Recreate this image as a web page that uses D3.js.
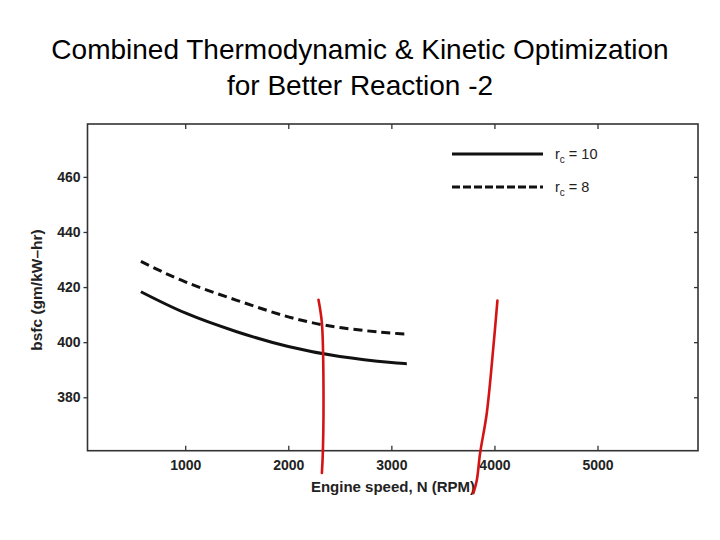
<!DOCTYPE html>
<html><head><meta charset="utf-8">
<script src="https://cdn.jsdelivr.net/npm/d3@7"></script>
<style>body{margin:0;background:#fff}svg{display:block}</style>
</head><body>
<script>
const titleLines = ["Combined Thermodynamic & Kinetic Optimization", "for Better Reaction -2"];
const rpm = [570, 1000, 1500, 2000, 2500, 3000, 3150];
const bsfc_rc10 = [418.3, 410.6, 403.8, 398.4, 394.8, 392.6, 392.2];
const bsfc_rc8 = [429.3, 421.9, 415.2, 409.2, 405.3, 403.3, 403.0];
const xTicks = [1000, 2000, 3000, 4000, 5000];
const yTicks = [380, 400, 420, 440, 460];
const seriesNames = ["10", "8"];
const xLabel = "Engine speed, N (RPM)";
const yLabel = "bsfc (gm/kW–hr)";
// hand-drawn red annotation strokes, in data units (rpm, bsfc)
const mark1_rpm = [2293, 2326, 2341, 2336, 2326];
const mark1_bsfc = [415.4, 407.0, 386.3, 360.8, 352.5];
const mark2_rpm = [4029, 3990, 3926, 3861, 3829, 3796];
const mark2_bsfc = [415.1, 398.4, 374.3, 359.7, 349.9, 345.2];

const W = 720, H = 540;
const svg = d3.select("body").append("svg").attr("width", W).attr("height", H);
const L = 87.5, R = 698, T = 124, B = 450.7;
const x = d3.scaleLinear().domain([52, 5975]).range([L, R]);
const y = d3.scaleLinear().domain([360.6, 479.2]).range([B, T]);

// title
svg.append("g").selectAll("text").data(titleLines).join("text")
  .attr("x", 360).attr("y", (d, i) => 59 + i * 36)
  .attr("text-anchor", "middle")
  .attr("font-family", "Liberation Sans, Arial, sans-serif")
  .attr("font-size", 28).attr("fill", "#000").text(d => d);

const axisFont = "Liberation Sans, Arial, Helvetica, sans-serif";
const ink = "#222";

// frame
svg.append("rect").attr("x", L).attr("y", T).attr("width", R - L).attr("height", B - T)
  .attr("fill", "none").attr("stroke", "#333").attr("stroke-width", 1.6);

// axes
const gB = svg.append("g").attr("transform", `translate(0,${B})`)
  .call(d3.axisBottom(x).tickValues(xTicks).tickFormat(d3.format("d")).tickSizeInner(-5).tickSizeOuter(0).tickPadding(9));
const gT = svg.append("g").attr("transform", `translate(0,${T})`)
  .call(d3.axisTop(x).tickValues(xTicks).tickSizeInner(-5).tickSizeOuter(0).tickFormat(""));
const gL = svg.append("g").attr("transform", `translate(${L},0)`)
  .call(d3.axisLeft(y).tickValues(yTicks).tickFormat(d3.format("d")).tickSizeInner(4).tickSizeOuter(0).tickPadding(3));
const gR = svg.append("g").attr("transform", `translate(${R},0)`)
  .call(d3.axisRight(y).tickValues(yTicks).tickSizeInner(-4).tickSizeOuter(0).tickFormat(""));
[gB, gT, gL, gR].forEach(g => {
  g.select(".domain").remove();
  g.selectAll(".tick line").attr("stroke", "#333").attr("stroke-width", 1.3);
  g.selectAll("text").attr("font-family", axisFont).attr("font-size", 14)
    .attr("font-weight", "bold").attr("fill", ink);
});

// axis titles
svg.append("text").attr("x", 393).attr("y", 492).attr("text-anchor", "middle")
  .attr("font-family", axisFont).attr("font-size", 15).attr("font-weight", "bold")
  .attr("fill", ink).text(xLabel);
svg.append("text").attr("transform", "translate(42,290) rotate(-90)").attr("text-anchor", "middle")
  .attr("font-family", axisFont).attr("font-size", 15.5).attr("font-weight", "bold")
  .attr("fill", ink).text(yLabel);

// curves
const line = d3.line().x(d => x(d[0])).y(d => y(d[1])).curve(d3.curveNatural);
const series = [bsfc_rc10, bsfc_rc8];
const dashes = [null, "9,5"];
series.forEach((s, i) => {
  svg.append("path").datum(rpm.map((r, j) => [r, s[j]]))
    .attr("d", line).attr("fill", "none").attr("stroke", "#111")
    .attr("stroke-width", 3).attr("stroke-dasharray", dashes[i]);
});

// legend
const lg = svg.append("g");
seriesNames.forEach((n, i) => {
  const yy = 154 + i * 33;
  lg.append("line").attr("x1", 452).attr("x2", 543).attr("y1", yy).attr("y2", yy)
    .attr("stroke", "#111").attr("stroke-width", 3).attr("stroke-dasharray", dashes[i] ? "8,3" : null);
  const t = lg.append("text").attr("x", 555).attr("y", yy + 5)
    .attr("font-family", axisFont).attr("font-size", 14.5).attr("fill", ink);
  t.append("tspan").text("r");
  t.append("tspan").attr("font-size", 10).attr("dy", 4).text("c");
  t.append("tspan").attr("dy", -4).text(" = " + n);
});

// red annotations
const redLine = d3.line().x(d => x(d[0])).y(d => y(d[1])).curve(d3.curveCatmullRom);
[[mark1_rpm, mark1_bsfc], [mark2_rpm, mark2_bsfc]].forEach(([xs, ys]) => {
  svg.append("path").datum(xs.map((v, j) => [v, ys[j]])).attr("d", redLine)
    .attr("fill", "none").attr("stroke", "#d41414").attr("stroke-width", 2.6)
    .attr("stroke-linecap", "round");
});
</script>
</body></html>
